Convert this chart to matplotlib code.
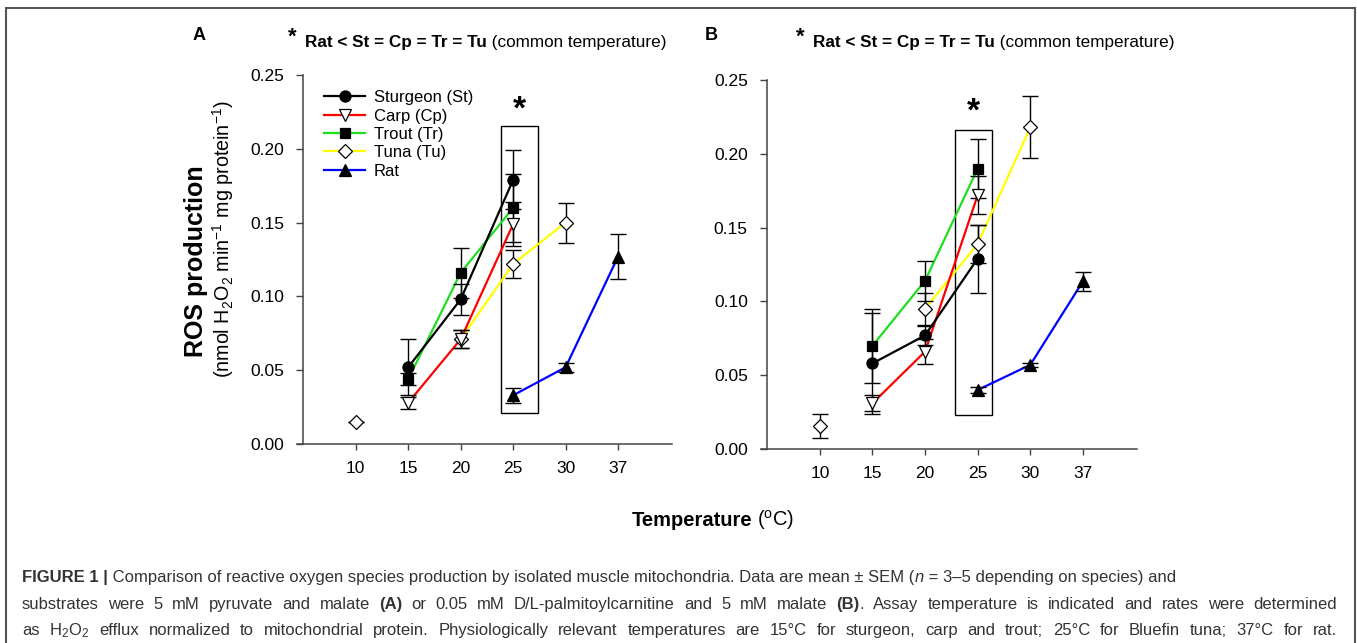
import numpy as np
import matplotlib
matplotlib.use("Agg")
import matplotlib.pyplot as plt
from matplotlib.lines import Line2D
from matplotlib.patches import Rectangle

plt.rcParams["font.family"] = ["Liberation Sans", "DejaVu Sans"]
plt.rcParams["mathtext.fontset"] = "custom"
plt.rcParams["mathtext.rm"] = "Liberation Sans"
plt.rcParams["mathtext.it"] = "Liberation Sans:italic"
plt.rcParams["mathtext.bf"] = "Liberation Sans:bold"

nan = np.nan

# temperatures (categorical x positions)
temps = ["10", "15", "20", "25", "30", "37"]

# Panel A - pyruvate + malate
st_a = [nan, 0.052, 0.098, 0.179, nan, nan]
st_a_err = [nan, 0.019, 0.0105, 0.020, nan, nan]
cp_a = [nan, 0.028, 0.071, 0.149, nan, nan]
cp_a_err = [nan, 0.004, 0.006, 0.015, nan, nan]
tr_a = [nan, 0.044, 0.116, 0.160, nan, nan]
tr_a_err = [nan, 0.004, 0.017, 0.023, nan, nan]
tu_a = [0.015, nan, 0.071, 0.122, 0.150, nan]
tu_a_err = [0.0, nan, 0.006, 0.0095, 0.0135, nan]
rat_a = [nan, nan, nan, 0.033, 0.052, 0.127]
rat_a_err = [nan, nan, nan, 0.005, 0.003, 0.0155]

# Panel B - palmitoylcarnitine + malate
st_b = [nan, 0.058, 0.077, 0.129, nan, nan]
st_b_err = [nan, 0.034, 0.0065, 0.023, nan, nan]
cp_b = [nan, 0.031, 0.066, 0.172, nan, nan]
cp_b_err = [nan, 0.0055, 0.0085, 0.013, nan, nan]
tr_b = [nan, 0.070, 0.114, 0.190, nan, nan]
tr_b_err = [nan, 0.025, 0.0136, 0.0197, nan, nan]
tu_b = [0.0155, nan, 0.095, 0.139, 0.218, nan]
tu_b_err = [0.0083, nan, 0.011, 0.013, 0.021, nan]
rat_b = [nan, nan, nan, 0.040, 0.057, 0.1135]
rat_b_err = [nan, nan, nan, 0.002, 0.0015, 0.0065]

labels = ["Sturgeon (St)", "Carp (Cp)", "Trout (Tr)", "Tuna (Tu)", "Rat"]
line_colors = ["black", "#ff0000", "#1fdd1f", "#ffff00", "#0000ff"]
markers = ["o", "v", "s", "D", "^"]
face_colors = ["black", "white", "black", "white", "black"]
msizes = [8, 8, 7.5, 7, 8]

x = np.arange(1, 7)

fig = plt.figure(figsize=(13.57, 6.43), dpi=100)
axA = fig.add_axes([0.2189, 0.3095, 0.2764, 0.5739])
axB = fig.add_axes([0.5608, 0.3017, 0.2771, 0.5739])


def draw_panel(ax, series, errs, box, star):
    order = [3, 1, 2, 0, 4]
    for i in order:
        y = np.array(series[i], dtype=float)
        e = np.array(errs[i], dtype=float)
        ax.plot(x, y, color=line_colors[i], lw=1.6, zorder=2)
        ax.errorbar(x, y, yerr=e, fmt="none", ecolor="black", elinewidth=1.0,
                    capsize=6, capthick=1.0, zorder=3)
        ax.plot(x, y, ls="none", marker=markers[i], ms=msizes[i],
                mfc=face_colors[i], mec="black", mew=0.9, zorder=4)
    ax.add_patch(Rectangle((box[0], box[1]), box[2] - box[0], box[3] - box[1],
                           fill=False, ec="black", lw=1.0, zorder=1))
    ax.text(star[0], star[1], "*", fontsize=24, fontweight="bold",
            ha="center", va="center")
    ax.set_xlim(-0.12, 7.03)
    ax.set_ylim(0, 0.25)
    ax.set_xticks(x)
    ax.set_xticklabels(temps)
    ax.set_yticks(np.arange(0, 0.26, 0.05))
    ax.set_yticklabels(["%.2f" % v for v in np.arange(0, 0.26, 0.05)])
    ax.spines["top"].set_visible(False)
    ax.spines["right"].set_visible(False)
    ax.spines["left"].set_position(("data", 0))
    for s in ["left", "bottom"]:
        ax.spines[s].set_color("#444444")
        ax.spines[s].set_linewidth(1.1)
    ax.tick_params(axis="y", direction="out", length=5, width=1, color="#444444",
                   labelsize=12.5, pad=9)
    ax.tick_params(axis="x", direction="out", length=4, width=1, color="#444444",
                   labelsize=12.5, pad=8)


draw_panel(axA, [st_a, cp_a, tr_a, tu_a, rat_a],
           [st_a_err, cp_a_err, tr_a_err, tu_a_err, rat_a_err],
           (3.76, 0.021, 4.48, 0.2155), (4.11, 0.226))
draw_panel(axB, [st_b, cp_b, tr_b, tu_b, rat_b],
           [st_b_err, cp_b_err, tr_b_err, tu_b_err, rat_b_err],
           (3.57, 0.023, 4.27, 0.216), (3.91, 0.228))

handles = [Line2D([], [], color=line_colors[i], lw=1.6, marker=markers[i],
                  ms=msizes[i], mfc=face_colors[i], mec="black", mew=0.9)
           for i in range(5)]
axA.legend(handles, labels, loc="upper left", bbox_to_anchor=(0.04, 0.99),
           frameon=False, fontsize=12, handlelength=2.5, labelspacing=0.2,
           handletextpad=0.5, borderaxespad=0.3)

# panel letters and headers
fig.text(193 / 1357, 1 - 36 / 643, "A", fontsize=13, fontweight="bold", va="center")
fig.text(705 / 1357, 1 - 36 / 643, "B", fontsize=13, fontweight="bold", va="center")

renderer = fig.canvas.get_renderer()


def text_w(s, size, kw):
    t = fig.text(0, 0, s, fontsize=size, **kw)
    w = t.get_window_extent(renderer=renderer).width
    t.remove()
    return w


def put_runs(x0, y0, runs, size, color="black", right=None):
    # place text runs one after another; with `right` the word gaps are
    # widened so the line ends at that pixel (justified caption lines)
    x0px = x0 * fig.bbox.width
    if right is None:
        xx = x0px
        for s, kw in runs:
            fig.text(xx / fig.bbox.width, y0, s, fontsize=size, color=color,
                     va="baseline", **kw)
            xx += text_w(s, size, kw)
        return
    tokens = []
    pending = False
    for s, kw in runs:
        parts = s.split(" ")
        for j, p in enumerate(parts):
            if j > 0:
                pending = True
            if p:
                tokens.append((p, kw, pending))
                pending = False
    widths = [text_w(p, size, kw) for p, kw, _ in tokens]
    sw = text_w("x x", size, {}) - text_w("xx", size, {})
    ngaps = sum(1 for t in tokens if t[2])
    natural = sum(widths) + ngaps * sw
    gap = sw + (right - x0px - natural) / ngaps
    xx = x0px
    for (p, kw, sp), w in zip(tokens, widths):
        if sp:
            xx += gap
        fig.text(xx / fig.bbox.width, y0, p, fontsize=size, color=color,
                 va="baseline", **kw)
        xx += w


header = [("Rat < St = Cp = Tr = Tu", {"fontweight": "bold"}),
          (" (common temperature)", {})]
for xs, xt in [(288, 305), (796, 813)]:
    fig.text(xs / 1357, 1 - 37 / 643, "*", fontsize=16, fontweight="bold", va="center")
    put_runs(xt / 1357, 1 - 47 / 643, header, 12.3)

# y axis label
fig.text(196 / 1357, 1 - 261 / 643, "ROS production", fontsize=18,
         fontweight="bold", rotation=90, ha="center", va="center")
fig.text(223 / 1357, 1 - 239 / 643,
         r"(nmol H$_2$O$_2$ min$^{-1}$ mg protein$^{-1}$)", fontsize=14.2,
         rotation=90, ha="center", va="center")

# x axis label
fig.text(752 / 1357, 1 - 526 / 643, "Temperature", fontsize=14.5,
         fontweight="bold", ha="right", va="baseline")
fig.text(757 / 1357, 1 - 526 / 643, r"($^{\rm o}$C)", fontsize=14.5,
         ha="left", va="baseline")

# caption
cap_color = "#333333"
cap_size = 12
x0 = 22 / 1357
put_runs(x0, 1 - 582 / 643,
         [("FIGURE 1 |", {"fontweight": "bold"}),
          (" Comparison of reactive oxygen species production by isolated muscle "
           "mitochondria. Data are mean \u00b1 SEM (", {}),
          ("n", {"fontstyle": "italic"}),
          (" = 3\u20135 depending on species) and", {})],
         cap_size, cap_color)
put_runs(x0, 1 - 609 / 643,
         [("substrates were 5 mM pyruvate and malate ", {}),
          ("(A)", {"fontweight": "bold"}),
          (" or 0.05 mM D/L-palmitoylcarnitine and 5 mM malate ", {}),
          ("(B)", {"fontweight": "bold"}),
          (". Assay temperature is indicated and rates were determined", {})],
         cap_size, cap_color, right=1337)
put_runs(x0, 1 - 635 / 643,
         [(r"as H$_2$O$_2$ efflux normalized to mitochondrial protein. "
           "Physiologically relevant temperatures are 15\u00b0C for sturgeon, carp "
           "and trout; 25\u00b0C for Bluefin tuna; 37\u00b0C for rat.", {})],
         cap_size, cap_color, right=1337)

# outer frame
fig.add_artist(Rectangle((6 / 1357, -0.02), 1349 / 1357, 1 - 8 / 643 + 0.02,
                         transform=fig.transFigure, fill=False, ec="#555555",
                         lw=1.5))

fig.savefig("out.png", dpi=100)
